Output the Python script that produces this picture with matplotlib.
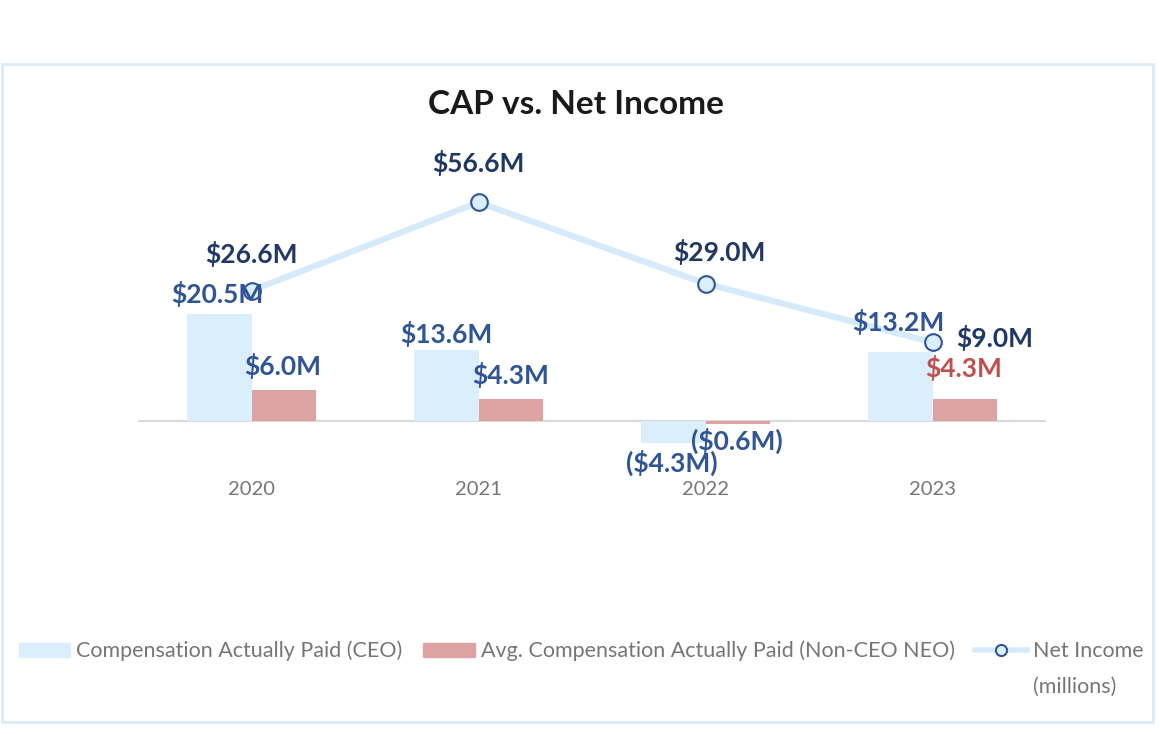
import numpy as np
import matplotlib.pyplot as plt
from matplotlib.patches import Rectangle
from matplotlib.lines import Line2D
from matplotlib.patches import Patch

plt.rcParams['font.family'] = ['Lato', 'DejaVu Sans']

years = ['2020', '2021', '2022', '2023']
cap_ceo = [20.5, 13.6, -4.3, 13.2]
cap_neo = [6.0, 4.3, -0.6, 4.3]
net_income = [26.6, 56.6, 29.0, 9.0]

ceo_labels = ['$20.5M', '$13.6M', '($4.3M)', '$13.2M']
neo_labels = ['$6.0M', '$4.3M', '($0.6M)', '$4.3M']
ni_labels = ['$26.6M', '$56.6M', '$29.0M', '$9.0M']

# label offsets in points (dx, dy)
ceo_off = [(-1, 15), (0, 12), (-1, -14), (-1, 22)]
neo_off = [(-1, 17), (0, 17), (-1, -12), (-1, 22)]
ni_off = [(0, 26), (0, 28), (10, 23), (45, 3)]
neo_colors = ['#2F5597', '#2F5597', '#2F5597', '#C0504D']

c_ceo = '#DAEEFB'
c_neo = '#DDA3A3'
c_line = '#D6EBFA'
c_mark = '#2F5597'

fig = plt.figure(figsize=(11.6, 7.34), dpi=100)
fig.patches.append(Rectangle((2 / 1160, 12 / 734), 1151 / 1160, 658 / 734,
                             transform=fig.transFigure, fill=False,
                             edgecolor='#DDEBF7', linewidth=2))

ax = fig.add_axes([138 / 1160, (734 - 470) / 734, 908 / 1160, 320 / 734])
ax2 = ax.twinx()

x = np.arange(len(years))
w = 0.286
ax.bar(x - w / 2, cap_ceo, w, color=c_ceo, zorder=2)
ax.bar(x + w / 2, cap_neo, w, color=c_neo, zorder=2)
ax.axhline(0, color='#D9D9D9', linewidth=1.5, zorder=1)

ax2.plot(x, net_income, color=c_line, linewidth=4.5, marker='o',
         markersize=12, markerfacecolor=c_ceo, markeredgecolor=c_mark,
         markeredgewidth=1.5, zorder=3)

ax.set_xlim(-0.5, 3.5)
ax.set_ylim(-9.42, 52.1)
ax2.set_ylim(-34.4, 74.4)

for a in (ax, ax2):
    for s in a.spines.values():
        s.set_visible(False)
    a.set_yticks([])
ax.set_xticks(x)
ax.set_xticklabels(years, fontsize=14.5, color='#767676')
ax.tick_params(axis='x', length=0, pad=8)

lab = dict(textcoords='offset points', ha='center', va='center',
           fontsize=19, fontweight='bold', zorder=5)
for i in range(len(years)):
    # drawn on ax2 so the labels sit above the line
    ax2.annotate(ceo_labels[i], (x[i] - w / 2, cap_ceo[i]), xycoords=ax.transData,
                 xytext=ceo_off[i], color='#2F5597', **lab)
    ax2.annotate(neo_labels[i], (x[i] + w / 2, cap_neo[i]), xycoords=ax.transData,
                 xytext=neo_off[i], color=neo_colors[i], **lab)
    ax2.annotate(ni_labels[i], (x[i], net_income[i]), xytext=ni_off[i],
                 color='#1F3864', **lab)

fig.text(576 / 1160, 1 - 105 / 734, 'CAP vs. Net Income', ha='center', va='center',
         fontsize=24, fontweight='bold', color='#1A1A1A')

handles = [Patch(color=c_ceo), Patch(color=c_neo),
           Line2D([], [], color=c_line, linewidth=4, marker='o', markersize=8,
                  markerfacecolor=c_ceo, markeredgecolor=c_mark, markeredgewidth=1.5)]
names = ['Compensation Actually Paid (CEO)',
         'Avg. Compensation Actually Paid (Non-CEO NEO)',
         'Net Income']
leg = fig.legend(handles, names, loc='center', bbox_to_anchor=(581 / 1160, 1 - 651 / 734),
                 ncol=3, frameon=False, fontsize=15.5, labelcolor='#767676',
                 handlelength=2.4, handleheight=0.65, handletextpad=0.28,
                 columnspacing=0.95)

# second line of the net income legend entry
fig.canvas.draw()
bb = leg.get_texts()[2].get_window_extent().transformed(fig.transFigure.inverted())
fig.text(bb.x0, bb.y0 - 16 / 734, '(millions)', ha='left', va='top',
         fontsize=15.5, color='#767676')

fig.savefig('out.png', dpi=100)
